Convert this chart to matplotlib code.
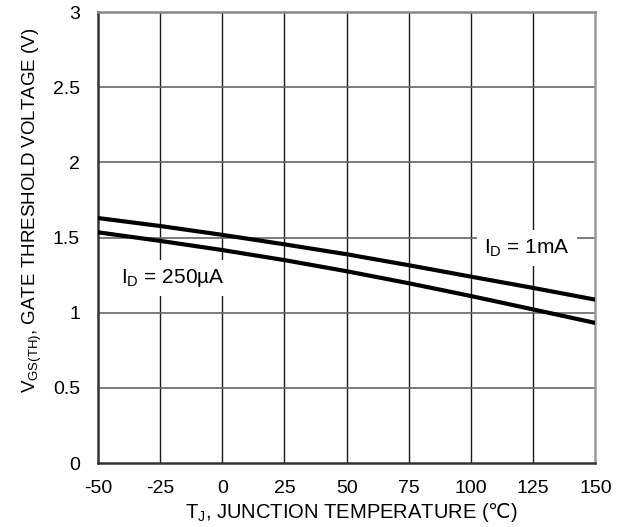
import numpy as np
import matplotlib.pyplot as plt

plt.rcParams['font.family'] = ['Liberation Sans', 'DejaVu Sans']
plt.rcParams['mathtext.fontset'] = 'custom'
plt.rcParams['mathtext.rm'] = 'Liberation Sans'
plt.rcParams['mathtext.it'] = 'Liberation Sans:italic'
plt.rcParams['mathtext.sf'] = 'DejaVu Sans'
plt.rcParams['mathtext.fallback'] = 'stixsans'
plt.rcParams['axes.unicode_minus'] = False

temp = [-50, -25, 0, 25, 50, 75, 100, 125, 150]
vth_1ma = [1.630, 1.577, 1.518, 1.455, 1.389, 1.316, 1.240, 1.165, 1.087]
vth_250ua = [1.535, 1.478, 1.417, 1.350, 1.276, 1.196, 1.111, 1.022, 0.932]

fig = plt.figure(figsize=(6.26, 5.27), dpi=100)
ax = fig.add_axes([0.1565, 0.1214, 0.7945, 0.8556])

for x in range(-25, 150, 25):
    ax.axvline(x, color='#1a1a1a', lw=1.0, zorder=1)
for y in np.arange(0.5, 3.0, 0.5):
    ax.axhline(y, color='#666666', lw=1.2, zorder=1)

ax.plot(temp, vth_1ma, color='black', lw=3, zorder=3)
ax.plot(temp, vth_250ua, color='black', lw=3, zorder=3)

box = dict(facecolor='white', edgecolor='none', pad=5)
ax.text(122.5, 1.395, r'I$_\mathregular{D}$ = 1mA', fontsize=15, ha='center', va='baseline',
        bbox=box, zorder=2)
ax.text(-20, 1.196, r'I$_\mathregular{D}$ = 250µA', fontsize=15, ha='center', va='baseline',
        bbox=box, zorder=2)

ax.set_xlim(-50, 150)
ax.set_ylim(0, 3)
ax.set_xticks(range(-50, 151, 25))
ax.set_yticks([0, 0.5, 1, 1.5, 2, 2.5, 3])
ax.set_yticklabels(['0', '0.5', '1', '1.5', '2', '2.5', '3'])
ax.tick_params(length=0, labelsize=14)
ax.tick_params(axis='x', pad=12)
ax.tick_params(axis='y', pad=13)

ax.spines['left'].set_color('#333333')
ax.spines['bottom'].set_color('#333333')
ax.spines['top'].set_color('#888888')
ax.spines['right'].set_color('#999999')
for s in ax.spines.values():
    s.set_linewidth(1.8)

ax.set_xlabel(r'T$_\mathregular{J}$, JUNCTION TEMPERATURE ($\mathsf{℃}$)', fontsize=14.5)
ax.set_ylabel(r'V$_\mathregular{GS(TH)}$, GATE THRESHOLD VOLTAGE (V)', fontsize=13.5)
ax.xaxis.set_label_coords(0.51, -0.11)
ax.yaxis.set_label_coords(-0.131, 0.561)
ax.xaxis.label.set_va('center')
ax.yaxis.label.set_va('center')

fig.savefig('out.png', dpi=100)
